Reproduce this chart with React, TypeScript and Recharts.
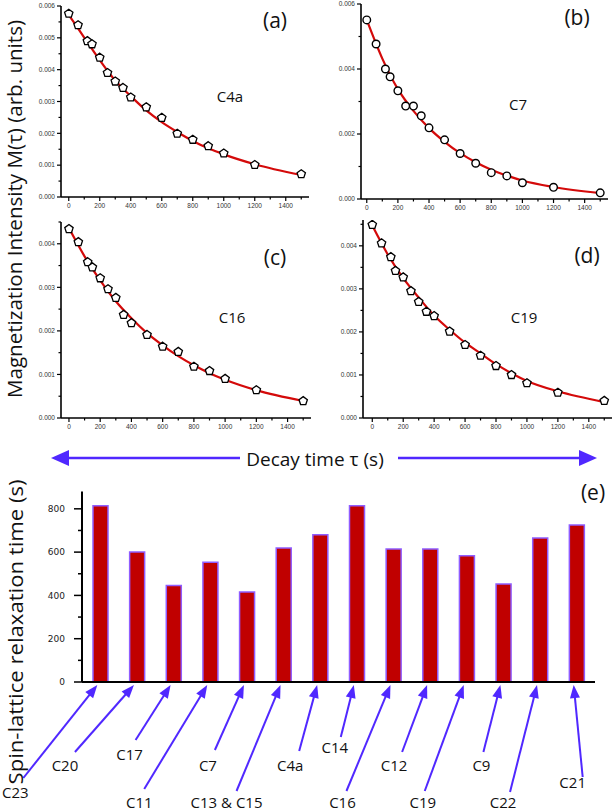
import React from 'react';
import { ComposedChart, Scatter, Line, XAxis, YAxis, BarChart, Bar } from 'recharts';

// ---------- data: decay curves ----------
const TAU = [0, 60, 120, 150, 200, 250, 300, 350, 400, 500, 600, 700, 800, 900, 1000, 1200, 1500];
const M_C4A = [0.00576, 0.0054, 0.0049, 0.0048, 0.00438, 0.0039, 0.00363, 0.00343, 0.00313, 0.00282, 0.00249, 0.00199, 0.0018, 0.0016, 0.00137, 0.00101, 0.00072];
const M_C7 = [0.00551, 0.00477, 0.004, 0.00376, 0.00333, 0.00286, 0.00286, 0.00256, 0.00219, 0.00182, 0.0014, 0.0011, 0.00081, 0.00071, 0.0005, 0.00036, 0.00019];
const M_C16 = [0.00434, 0.00404, 0.00358, 0.00346, 0.00321, 0.00296, 0.00276, 0.00237, 0.00218, 0.00191, 0.00164, 0.00152, 0.00118, 0.00108, 0.0009, 0.00064, 0.00039];
const M_C19 = [0.00449, 0.00406, 0.00374, 0.00342, 0.00327, 0.00295, 0.0027, 0.00247, 0.00237, 0.00201, 0.0017, 0.00145, 0.00121, 0.001, 0.00081, 0.00059, 0.0004];

// fitted curves
const FIT_TAU = [0, 100, 200, 300, 400, 500, 600, 700, 800, 900, 1000, 1200, 1500];
const FIT_C4A = [0.00572, 0.00501, 0.0043, 0.00366, 0.00317, 0.00272, 0.00235, 0.00204, 0.00176, 0.00153, 0.00134, 0.00103, 0.00069];
const FIT_C7 = [0.00551, 0.00432, 0.00338, 0.00271, 0.00218, 0.00176, 0.00141, 0.00113, 0.0009, 0.00072, 0.00057, 0.00037, 0.00018];
const FIT_C16 = [0.00436, 0.00371, 0.00316, 0.00268, 0.00229, 0.00195, 0.00167, 0.00142, 0.00121, 0.00103, 0.00088, 0.00064, 0.00039];
const FIT_C19 = [0.00447, 0.0038, 0.00325, 0.0028, 0.00238, 0.00205, 0.00175, 0.0015, 0.00125, 0.00104, 0.00086, 0.00062, 0.00037];

const X_TICKS = [0, 100, 200, 300, 400, 500, 600, 700, 800, 900, 1000, 1100, 1200, 1300, 1400, 1500];

// ---------- data: relaxation times ----------
const CARBONS = ['C23', 'C20', 'C17', 'C11', 'C7', 'C13 & C15', 'C4a', 'C14', 'C16', 'C12', 'C19', 'C9', 'C22', 'C21'];
const T1 = [814, 600, 446, 553, 416, 619, 680, 814, 614, 614, 583, 453, 665, 725];
const T1_TICKS = [0, 100, 200, 300, 400, 500, 600, 700, 800];

// label / arrow layout relative to bar centre on the axis (lx, ly = label centre/baseline; ax, ay = arrow tail)
const CARBON_LAYOUT = [
  { lx: -85, ly: 116, ax: -77, ay: 96 },
  { lx: -72, ly: 89, ax: -62, ay: 70 },
  { lx: -44, ly: 78, ax: -38, ay: 58 },
  { lx: -71, ly: 126, ax: -66, ay: 107 },
  { lx: -39, ly: 89, ax: -32, ay: 68 },
  { lx: -57, ly: 126, ax: -47, ay: 109 },
  { lx: -30, ly: 89, ax: -21, ay: 69 },
  { lx: -22, ly: 71, ax: -16, ay: 55 },
  { lx: -51, ly: 126, ax: -47, ay: 109 },
  { lx: -36, ly: 89, ax: -28, ay: 70 },
  { lx: -44, ly: 126, ax: -42, ay: 109 },
  { lx: -22, ly: 89, ax: -20, ay: 70 },
  { lx: -37, ly: 126, ax: -30, ay: 110 },
  { lx: -4, ly: 106, ax: 6, ay: 95 },
];

const FONT = '"Open Sans", "Noto Sans", sans-serif';
const TICK_FONT = '"Liberation Sans", Arial, sans-serif';
const ARROW = '#5028ff';
const RED = '#d40a0a';

function pentagonPath(cx: number, cy: number, r: number) {
  let d = '';
  for (let i = 0; i < 5; i++) {
    const a = -Math.PI / 2 + (i * 2 * Math.PI) / 5;
    d += (i ? 'L' : 'M') + (cx + r * Math.cos(a)).toFixed(2) + ',' + (cy + r * Math.sin(a)).toFixed(2);
  }
  return d + 'Z';
}

function isMult(v: number, step: number) {
  const q = v / step;
  return Math.abs(q - Math.round(q)) < 1e-6;
}

const XTick = (p: any) => {
  const v = p.payload.value;
  const major = isMult(v, 200) && v <= 1400;
  return (
    <g>
      <line x1={p.x} x2={p.x} y1={p.y} y2={p.y + (major ? 4 : 2.5)} stroke="#000" strokeWidth={1.2} />
      {major && (
        <text x={p.x} y={p.y + 11} textAnchor="middle" fontSize={6.5} fontFamily={TICK_FONT} fill="#333">
          {v}
        </text>
      )}
    </g>
  );
};

const makeYTick = (majorStep: number) => (p: any) => {
  const v = p.payload.value;
  const major = isMult(v, majorStep);
  return (
    <g>
      <line x1={p.x} x2={p.x - (major ? 4 : 2.5)} y1={p.y} y2={p.y} stroke="#000" strokeWidth={1.2} />
      {major && (
        <text x={p.x - 6} y={p.y + 2.3} textAnchor="end" fontSize={6.5} fontFamily={TICK_FONT} fill="#333">
          {v.toFixed(3)}
        </text>
      )}
    </g>
  );
};

type Spec = {
  left: number; top: number; width: number; height: number;
  plotLeft: number; plotTop: number; plotRight: number; plotBottom: number;
  xDomain: [number, number]; yDomain: [number, number]; yMinor: number; yMajor: number; marker: 'pent' | 'circle';
};

function DecayPanel({ spec, values, fit }: { spec: Spec; values: number[]; fit: number[] }) {
  const { left, top, width, height, plotLeft, plotTop, plotRight, plotBottom, xDomain, yDomain, yMinor, yMajor, marker } = spec;
  const yTicks: number[] = [];
  for (let k = 0; k * yMinor <= yDomain[1] + 1e-9; k++) yTicks.push(+(k * yMinor).toFixed(6));
  const points = TAU.map((t, i) => ({ t, m: values[i] }));
  const curve = FIT_TAU.map((t, i) => ({ t, m: fit[i] }));
  const YTick = makeYTick(yMajor);
  return (
    <div style={{ position: 'absolute', left, top }}>
      <ComposedChart
        width={width}
        height={height}
        margin={{ top: plotTop - top, right: left + width - plotRight, bottom: 0, left: 0 }}
      >
        <XAxis
          type="number"
          dataKey="t"
          domain={xDomain}
          ticks={X_TICKS}
          interval={0}
          height={top + height - plotBottom}
          tickSize={0}
          tickMargin={0}
          tickLine={false}
          allowDataOverflow
          axisLine={{ stroke: '#000', strokeWidth: 1.6 }}
          tick={(p: any) => <XTick {...p} />}
        />
        <YAxis
          type="number"
          dataKey="m"
          domain={yDomain}
          ticks={yTicks}
          interval={0}
          width={plotLeft - left}
          tickSize={0}
          tickMargin={0}
          tickLine={false}
          allowDataOverflow
          axisLine={{ stroke: '#000', strokeWidth: 1.6 }}
          tick={(p: any) => <YTick {...p} />}
        />
        <Scatter
          data={points}
          dataKey="m"
          isAnimationActive={false}
          shape={(p: any) =>
            marker === 'pent' ? (
              <path d={pentagonPath(p.cx, p.cy, 4.4)} fill="#fff" stroke="#000" strokeWidth={1.3} />
            ) : (
              <circle cx={p.cx} cy={p.cy} r={3.8} fill="#fff" stroke="#000" strokeWidth={1.4} />
            )
          }
        />
        <Line data={curve} dataKey="m" type="monotone" dot={false} stroke={RED} strokeWidth={2.2} isAnimationActive={false} />
      </ComposedChart>
    </div>
  );
}

const CarbonTick = (p: any) => {
  const lay = CARBON_LAYOUT[p.index] || { lx: 0, ly: 80, ax: 0, ay: 60 };
  const tipX = p.x - 3;
  const tipY = p.y + 3;
  const tx = p.x + lay.ax;
  const ty = p.y + lay.ay;
  const dx = tipX - tx;
  const dy = tipY - ty;
  const len = Math.sqrt(dx * dx + dy * dy);
  const ux = dx / len;
  const uy = dy / len;
  const hl = 13;
  const hw = 5;
  const bx = tipX - ux * hl;
  const by = tipY - uy * hl;
  return (
    <g>
      <line x1={tx} y1={ty} x2={bx + ux * 2} y2={by + uy * 2} stroke={ARROW} strokeWidth={2} />
      <path
        d={`M${tipX},${tipY}L${bx - uy * hw},${by + ux * hw}L${bx + uy * hw},${by - ux * hw}Z`}
        fill={ARROW}
      />
      <text x={p.x + lay.lx} y={p.y + lay.ly} textAnchor="middle" fontSize={15} fontFamily={FONT} fill="#111">
        {p.payload.value}
      </text>
    </g>
  );
};

const T1Tick = (p: any) => {
  const v = p.payload.value;
  const major = isMult(v, 200);
  return (
    <g>
      <line x1={p.x} x2={p.x - (major ? 8 : 4)} y1={p.y} y2={p.y} stroke="#000" strokeWidth={1.5} />
      {major && (
        <text x={p.x - 17} y={p.y + 3.3} textAnchor="end" fontSize={9} fontFamily='"DejaVu Sans", sans-serif' fill="#222">
          {v}
        </text>
      )}
    </g>
  );
};

const PANELS: Spec[] = [
  { left: 0, top: 0, width: 314, height: 212, plotLeft: 61, plotTop: 6, plotRight: 309, plotBottom: 197, xDomain: [-50, 1550], yDomain: [0, 0.006], yMinor: 0.0005, yMajor: 0.001, marker: 'pent' },
  { left: 310, top: 0, width: 304, height: 212, plotLeft: 361, plotTop: 4, plotRight: 608, plotBottom: 199, xDomain: [-37, 1550], yDomain: [0, 0.006], yMinor: 0.001, yMajor: 0.002, marker: 'circle' },
  { left: 0, top: 212, width: 316, height: 222, plotLeft: 61, plotTop: 222, plotRight: 311, plotBottom: 418, xDomain: [-51, 1550], yDomain: [0, 0.0045], yMinor: 0.0005, yMajor: 0.001, marker: 'pent' },
  { left: 316, top: 212, width: 298, height: 222, plotLeft: 363, plotTop: 220, plotRight: 612, plotBottom: 418, xDomain: [-60, 1550], yDomain: [0, 0.0046], yMinor: 0.0005, yMajor: 0.001, marker: 'pent' },
];

export default function App() {
  const barData = CARBONS.map((c, i) => ({ carbon: c, t1: T1[i] }));
  return (
    <div style={{ position: 'absolute', left: 0, top: 0, width: 614, height: 811, background: '#fff', overflow: 'hidden' }}>
      <DecayPanel spec={PANELS[0]} values={M_C4A} fit={FIT_C4A} />
      <DecayPanel spec={PANELS[1]} values={M_C7} fit={FIT_C7} />
      <DecayPanel spec={PANELS[2]} values={M_C16} fit={FIT_C16} />
      <DecayPanel spec={PANELS[3]} values={M_C19} fit={FIT_C19} />

      <div style={{ position: 'absolute', left: 0, top: 480 }}>
        <BarChart width={614} height={331} data={barData} margin={{ top: 11.5, right: 19, left: 0, bottom: 0 }} barSize={15}>
          <XAxis
            dataKey="carbon"
            type="category"
            height={129}
            interval={0}
            tickSize={0}
            tickMargin={0}
            tickLine={false}
            axisLine={{ stroke: '#000', strokeWidth: 2 }}
            tick={(p: any) => <CarbonTick {...p} />}
          />
          <YAxis
            type="number"
            domain={[0, 880]}
            ticks={T1_TICKS}
            interval={0}
            width={82}
            tickSize={0}
            tickMargin={0}
            tickLine={false}
            allowDataOverflow
            axisLine={{ stroke: '#000', strokeWidth: 2 }}
            tick={(p: any) => <T1Tick {...p} />}
          />
          <Bar dataKey="t1" fill="#c00000" stroke="#8f5dff" strokeWidth={1.5} isAnimationActive={false} />
        </BarChart>
      </div>

      <svg width={614} height={811} style={{ position: 'absolute', left: 0, top: 0, pointerEvents: 'none' }}>
        <text
          transform="translate(22,209) rotate(-90)"
          textAnchor="middle"
          fontSize={20}
          fontFamily={FONT}
          fill="#111"
          textLength={378}
          lengthAdjust="spacingAndGlyphs"
        >
          Magnetization Intensity M(τ) (arb. units)
        </text>
        <text
          transform="translate(23,632) rotate(-90)"
          textAnchor="middle"
          fontSize={20}
          fontFamily={FONT}
          fill="#111"
          textLength={305}
          lengthAdjust="spacingAndGlyphs"
        >
          Spin-lattice relaxation time (s)
        </text>

        <line x1={64} y1={458} x2={240} y2={458} stroke={ARROW} strokeWidth={2.5} />
        <path d="M51,458L69,450L69,466Z" fill={ARROW} />
        <line x1={398} y1={458} x2={583} y2={458} stroke={ARROW} strokeWidth={2.5} />
        <path d="M597,458L579,450L579,466Z" fill={ARROW} />
        <text x={315} y={466} textAnchor="middle" fontSize={19} fontFamily={FONT} fill="#111">
          Decay time τ (s)
        </text>

        <text x={275} y={28} textAnchor="middle" fontSize={21} fontFamily={FONT} fill="#111">(a)</text>
        <text x={577} y={25} textAnchor="middle" fontSize={21} fontFamily={FONT} fill="#111">(b)</text>
        <text x={275} y={265} textAnchor="middle" fontSize={21} fontFamily={FONT} fill="#111">(c)</text>
        <text x={587} y={263} textAnchor="middle" fontSize={21} fontFamily={FONT} fill="#111">(d)</text>
        <text x={593} y={500} textAnchor="middle" fontSize={21} fontFamily={FONT} fill="#111">(e)</text>

        <text x={230} y={102} textAnchor="middle" fontSize={15} fontFamily={FONT} fill="#111">C4a</text>
        <text x={518} y={110} textAnchor="middle" fontSize={15} fontFamily={FONT} fill="#111">C7</text>
        <text x={232} y={323} textAnchor="middle" fontSize={15} fontFamily={FONT} fill="#111">C16</text>
        <text x={524} y={323} textAnchor="middle" fontSize={15} fontFamily={FONT} fill="#111">C19</text>
      </svg>
    </div>
  );
}
